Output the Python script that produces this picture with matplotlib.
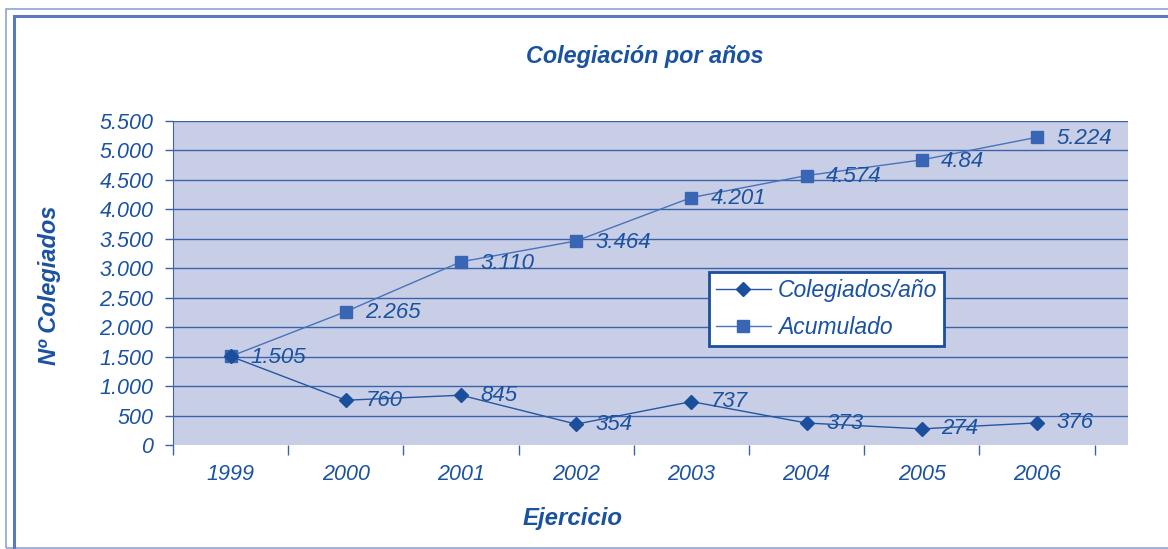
import matplotlib.pyplot as plt
from matplotlib.patches import Rectangle

# datos del grafico
years = ['1999', '2000', '2001', '2002', '2003', '2004', '2005', '2006']
colegiados_ano = [1505, 760, 845, 354, 737, 373, 274, 376]
acumulado = [1505, 2265, 3110, 3464, 4201, 4574, 4840, 5224]
lab_ano = ['', '760', '845', '354', '737', '373', '274', '376']
lab_acum = ['1.505', '2.265', '3.110', '3.464', '4.201', '4.574', '4.84', '5.224']
yticks = [0, 500, 1000, 1500, 2000, 2500, 3000, 3500, 4000, 4500, 5000, 5500]
ytick_labels = ['0', '500', '1.000', '1.500', '2.000', '2.500', '3.000',
                '3.500', '4.000', '4.500', '5.000', '5.500']

txt = '#1a52a0'
plt.rcParams['font.family'] = ['Liberation Sans', 'DejaVu Sans']

fig = plt.figure(figsize=(11.68, 5.49), dpi=100)
W, H = 1168, 549

# marco doble
fig.patches.append(Rectangle((6 / W, 1 / H), 1.2, (549 - 9 - 1) / H, transform=fig.transFigure,
                             fill=False, edgecolor='#8ea4d6', lw=1.2))
fig.patches.append(Rectangle((14 / W, -0.1), 1.2, 1.1 - 16 / H, transform=fig.transFigure,
                             fill=False, edgecolor='#5a7ac0', lw=2.2))

ax = fig.add_axes([173 / W, 1 - 445 / H, (1128 - 173) / W, (445 - 121) / H])
ax.set_facecolor('#c9cee7')

x = list(range(len(years)))
for v in yticks[1:]:
    ax.axhline(v, color='#3a63aa', lw=1, zorder=1)

ax.plot(x, acumulado, color='#4a72b8', lw=1, marker='s', ms=8,
        mfc='#3866b4', mec='#3866b4', label='Acumulado', zorder=3)
ax.plot(x, colegiados_ano, color='#2456a2', lw=1, marker='D', ms=7.5,
        mfc='#1b4f9c', mec='#1b4f9c', label='Colegiados/año', zorder=4)

for i in x:
    ax.annotate(lab_acum[i], (x[i], acumulado[i]), xytext=(14, -1), textcoords='offset points',
                va='center', ha='left', fontsize=16, style='italic', color=txt)
    if lab_ano[i]:
        ax.annotate(lab_ano[i], (x[i], colegiados_ano[i]), xytext=(14, 0), textcoords='offset points',
                    va='center', ha='left', fontsize=16, style='italic', color=txt)

ax.set_xlim(-0.5, 7.79)
ax.set_ylim(0, 5500)
ax.set_yticks(yticks)
ax.set_yticklabels(ytick_labels)
ax.set_xticks(x)
ax.set_xticklabels(years)
ax.set_xticks([i - 0.5 for i in range(len(years) + 1)], minor=True)
ax.tick_params(axis='x', which='major', length=0, pad=14, labelsize=15.5, labelcolor=txt)
ax.tick_params(axis='x', which='minor', length=7, color='#3a63aa', width=1)
ax.tick_params(axis='y', length=6, color='#3a63aa', width=1, pad=8, labelsize=15.5, labelcolor=txt)
for t in ax.get_xticklabels() + ax.get_yticklabels():
    t.set_style('italic')

for s in ['top', 'right', 'bottom']:
    ax.spines[s].set_visible(False)
ax.spines['left'].set_color('#3a63aa')

fig.text(645 / W, 1 - 56 / H, 'Colegiación por años', ha='center', va='center',
         fontsize=16.8, fontweight='bold', style='italic', color=txt)
fig.text(50 / W, 1 - 285 / H, 'Nº Colegiados', ha='center', va='center', rotation=90,
         fontsize=17, fontweight='bold', style='italic', color=txt)
fig.text(573 / W, 1 - 519 / H, 'Ejercicio', ha='center', va='center',
         fontsize=17.3, fontweight='bold', style='italic', color=txt)

handles, labels = ax.get_legend_handles_labels()
leg = ax.legend(handles[::-1], labels[::-1], loc='upper left',
                bbox_to_anchor=((709 - 173) / 955, (445 - 272) / 324),
                borderaxespad=0, fancybox=False, framealpha=1, fontsize=16.5,
                handlelength=2.4, handletextpad=0.3, labelcolor=txt, edgecolor='#1b4f9c',
                borderpad=0.3, labelspacing=0.6)
leg.get_frame().set_linewidth(2)
for t in leg.get_texts():
    t.set_style('italic')

fig.savefig('out.png', dpi=100)
